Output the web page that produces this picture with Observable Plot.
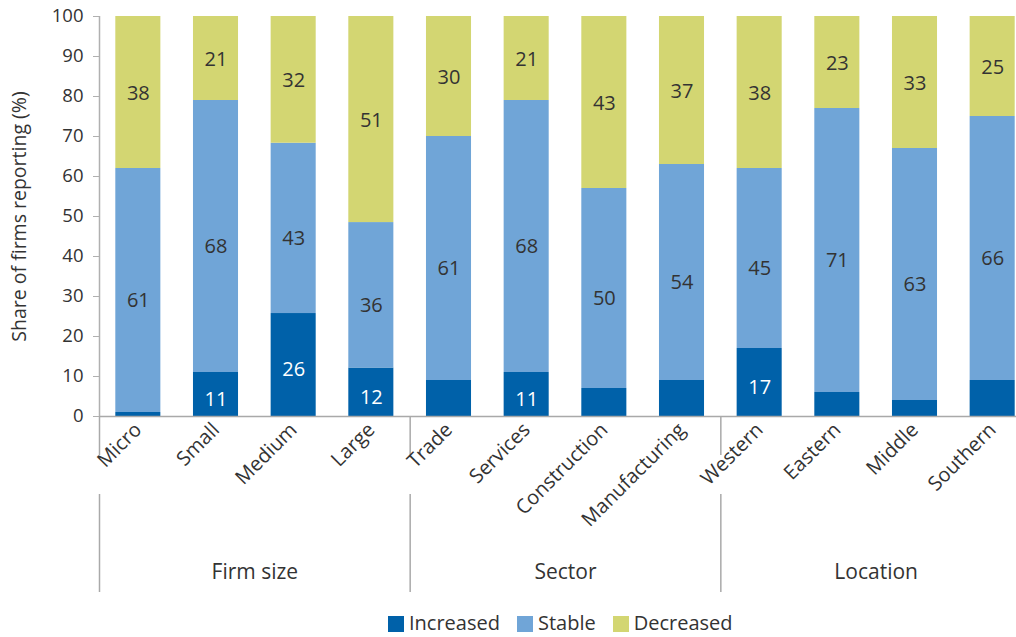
<!DOCTYPE html>
<html>
<head>
<meta charset="utf-8">
<script src="https://cdn.jsdelivr.net/npm/d3@7"></script>
<script src="https://cdn.jsdelivr.net/npm/@observablehq/plot@0.6"></script>
<style>
  html, body { margin: 0; padding: 0; background: #fff; }
  #wrap { position: relative; width: 1016px; height: 637px; overflow: hidden; font-family: "Open Sans", sans-serif; color: #333; }
  #legend { position: absolute; left: 388px; top: 609px; display: flex; align-items: center; font-size: 20px; line-height: 27px; height: 27px; }
  #legend .item { display: flex; align-items: center; margin-right: 17px; }
  #legend .sw { width: 16px; height: 16px; margin-right: 5px; margin-top: 2px; }
</style>
</head>
<body>
<div id="wrap"><div id="chart"></div><div id="legend"></div></div>
<script>
// ---- data ----
const groups = ["Firm size", "Sector", "Location"];
const groupCategories = [
  ["Micro", "Small", "Medium", "Large"],
  ["Trade", "Services", "Construction", "Manufacturing"],
  ["Western", "Eastern", "Middle", "Southern"]
];
const categories = groupCategories.flat();
const increased = [1, 11, 26, 12, 9, 11, 7, 9, 17, 6, 4, 9];
const stable    = [61, 68, 43, 36, 61, 68, 50, 54, 45, 71, 63, 66];
const decreased = [38, 21, 32, 51, 30, 21, 43, 37, 38, 23, 33, 25];
const seriesNames = ["Increased", "Stable", "Decreased"];
const seriesColors = ["#0061a9", "#70a5d7", "#d3d672"];
const yTicks = [0, 10, 20, 30, 40, 50, 60, 70, 80, 90, 100];
const yTitle = "Share of firms reporting (%)";

const seriesValues = [increased, stable, decreased];
const rows = categories.flatMap((c, i) =>
  seriesNames.map((s, k) => ({category: c, series: s, value: seriesValues[k][i]}))
);

// ---- layout ----
const W = 1016, H = 600;
const xRange = [99, 1031];
const half = (xRange[1] - xRange[0]) / categories.length / 2;
const groupStarts = groupCategories.map(g => g[0]);
const groupMids = groupCategories.map(g => g[1]);

const stackOpts = {x: "category", y: "value", z: "series", offset: "normalize"};

const chart = Plot.plot({
  width: W,
  height: H,
  marginTop: 16,
  marginBottom: 184,
  marginLeft: 99,
  marginRight: 0,
  style: {fontFamily: "Open Sans", fontSize: "18px", color: "#333", background: "#fff"},
  x: {domain: categories, range: xRange, paddingInner: 0.42, paddingOuter: 0.21, round: false},
  y: {domain: [0, 1]},
  color: {domain: seriesNames, range: seriesColors},
  marks: [
    Plot.barY(rows, Plot.stackY({...stackOpts, fill: "series"})),
    // baseline
    Plot.ruleY([0], {stroke: "#a9a9a9", strokeWidth: 1.5}),
    // y-axis line
    Plot.ruleX([categories[0]], {y1: 0, y2: 1, dx: -half, stroke: "#b0b0b0", strokeWidth: 1.5}),
    // group separators
    Plot.ruleX(groupStarts, {x: d => d, y1: 0, y2: -0.0975, dx: -half, stroke: "#a9a9a9", strokeWidth: 1.5}),
    Plot.ruleX(groupStarts, {x: d => d, y1: -0.195, y2: -0.44, dx: -half, stroke: "#a9a9a9", strokeWidth: 1.5}),
    // value labels
    Plot.text(rows, Plot.stackY({...stackOpts,
      text: d => d.series === "Increased" && d.value >= 10 ? String(d.value) : "",
      fill: "#fff", dy: 5, fontSize: 20})),
    Plot.text(rows, Plot.stackY({...stackOpts,
      text: d => d.series === "Stable" ? String(d.value) : "",
      fill: "#333", dy: 10, fontSize: 20})),
    Plot.text(rows, Plot.stackY({...stackOpts,
      text: d => d.series === "Decreased" ? String(d.value) : "",
      fill: "#333", dy: 1, fontSize: 20})),
    // group labels
    Plot.text(groups, {x: (d, i) => groupMids[i], y: -0.39, text: d => d, dx: half, fontSize: 21, fill: "#333"}),
    // y title
    Plot.text([yTitle], {frameAnchor: "left", textAnchor: "middle", rotate: -90, dx: -80, fontSize: 19.5, fill: "#333"}),
    Plot.axisY({
      ticks: yTicks.map(v => v / 100),
      tickFormat: d => String(Math.round(d * 100)),
      tickSize: 6, tickPadding: 10, stroke: "#b0b0b0", fill: "#333", fontSize: 18.5,
      label: null
    }),
    Plot.axisX({tickRotate: -45, tickSize: 0, tickPadding: 10, fontSize: 20, fill: "#333", label: null})
  ]
});
document.getElementById("chart").appendChild(chart);

const legend = document.getElementById("legend");
seriesNames.forEach((s, k) => {
  const item = document.createElement("div");
  item.className = "item";
  const sw = document.createElement("div");
  sw.className = "sw";
  sw.style.background = seriesColors[k];
  const t = document.createElement("span");
  t.textContent = s;
  item.appendChild(sw); item.appendChild(t);
  legend.appendChild(item);
});
</script>
</body>
</html>
